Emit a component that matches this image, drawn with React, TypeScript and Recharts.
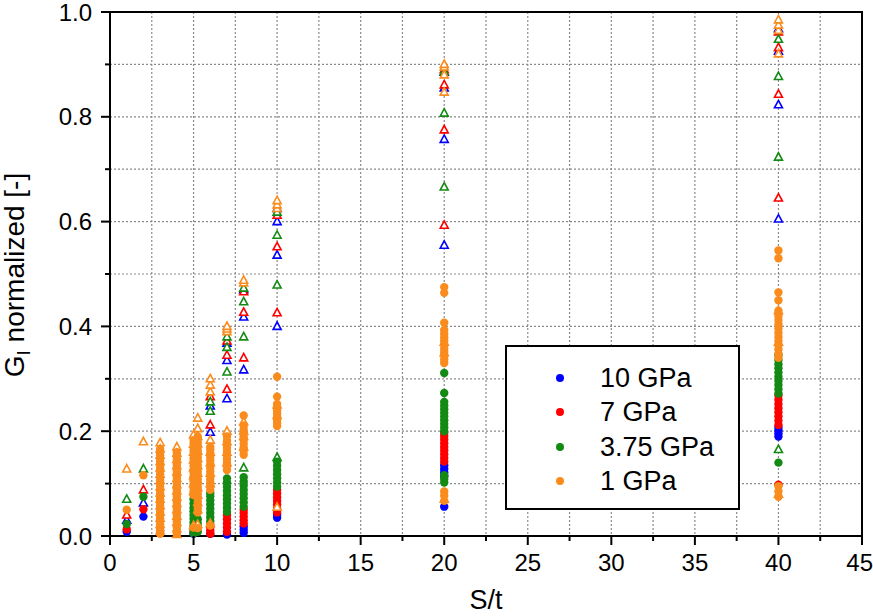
import { CartesianGrid, Legend, ReferenceArea, Scatter, ScatterChart, XAxis, YAxis } from 'recharts'

// each entry: [S/t, G_I normalized values]
type Column = [number, number[]]

const blueDots: Column[] = [
  [1, [0.008]],
  [2, [0.037]],
  [3, [0.01]],
  [5, [0.004]],
  [6, [0.004]],
  [7, [0.003]],
  [8, [0.006, 0.012, 0.018]],
  [10, [0.035, 0.041]],
  [20, [0.056, 0.114, 0.121, 0.128, 0.135]],
  [40, [0.19, 0.196, 0.202, 0.208]],
]
const blueTris: Column[] = [
  [1, [0.03]],
  [2, [0.063]],
  [6, [0.198, 0.248]],
  [7, [0.262, 0.335, 0.368]],
  [8, [0.317, 0.418, 0.47]],
  [10, [0.4, 0.536, 0.6, 0.625]],
  [20, [0.555, 0.757, 0.855, 0.885]],
  [40, [0.605, 0.823, 0.925, 0.968]],
]
const redDots: Column[] = [
  [1, [0.013]],
  [2, [0.051]],
  [5, [0.008]],
  [6, [0.004, 0.01, 0.016, 0.022]],
  [7, [0.008, 0.016, 0.024, 0.032, 0.04]],
  [8, [0.024, 0.03, 0.037, 0.044, 0.05]],
  [10, [0.045, 0.052, 0.06, 0.067, 0.074, 0.081, 0.088]],
  [20, [0.142, 0.149, 0.156, 0.163, 0.17, 0.177, 0.184, 0.191, 0.197]],
  [40, [0.098, 0.212, 0.22, 0.228, 0.236, 0.244, 0.252, 0.26, 0.268]],
]
const redTris: Column[] = [
  [1, [0.04]],
  [2, [0.088]],
  [6, [0.212, 0.266]],
  [7, [0.28, 0.345, 0.372]],
  [8, [0.34, 0.427, 0.466]],
  [10, [0.426, 0.552, 0.612]],
  [20, [0.593, 0.775, 0.861, 0.89]],
  [40, [0.645, 0.843, 0.932, 0.962]],
]
const greenDots: Column[] = [
  [1, [0.023]],
  [2, [0.075]],
  [5, [0.005, 0.012, 0.019, 0.026, 0.033, 0.04, 0.047, 0.054, 0.062, 0.07]],
  [5.25, [0.008, 0.016, 0.024, 0.032]],
  [6, [0.028, 0.036, 0.044, 0.052, 0.06, 0.068, 0.076, 0.082]],
  [7, [0.046, 0.054, 0.062, 0.07, 0.078, 0.086, 0.094, 0.102, 0.11]],
  [8, [0.056, 0.064, 0.072, 0.08, 0.088, 0.096, 0.104, 0.112]],
  [10, [0.094, 0.102, 0.11, 0.118, 0.126, 0.134, 0.142]],
  [20, [0.102, 0.109, 0.116, 0.2, 0.207, 0.214, 0.221, 0.228, 0.235, 0.242, 0.249, 0.256, 0.273, 0.311]],
  [40, [0.14, 0.272, 0.28, 0.288, 0.296, 0.304, 0.312, 0.32, 0.328, 0.336, 0.345]],
]
const greenTris: Column[] = [
  [1, [0.07]],
  [2, [0.128]],
  [6, [0.238, 0.256]],
  [7, [0.313, 0.36, 0.38]],
  [8, [0.13, 0.38, 0.447, 0.473]],
  [10, [0.15, 0.479, 0.574, 0.618]],
  [20, [0.666, 0.807, 0.886]],
  [40, [0.165, 0.723, 0.877, 0.948]],
]
const orangeDots: Column[] = [
  [1, [0.05]],
  [2, [0.116]],
  [3, [0.004, 0.01, 0.016, 0.022, 0.028, 0.034, 0.04, 0.046, 0.052, 0.058, 0.064, 0.07, 0.076, 0.082, 0.088, 0.094, 0.1, 0.106, 0.112, 0.118, 0.124, 0.13, 0.136, 0.142, 0.148, 0.154, 0.16, 0.166]],
  [4, [0.004, 0.01, 0.016, 0.022, 0.028, 0.034, 0.04, 0.046, 0.052, 0.058, 0.064, 0.07, 0.076, 0.082, 0.088, 0.094, 0.1, 0.106, 0.112, 0.118, 0.124, 0.13, 0.136, 0.142, 0.148, 0.154, 0.16]],
  [5, [0.016, 0.078, 0.085, 0.092, 0.099, 0.106, 0.113, 0.12, 0.127, 0.134, 0.141, 0.148, 0.155, 0.162, 0.169, 0.176, 0.183]],
  [5.25, [0.015, 0.045, 0.052, 0.059, 0.066, 0.073, 0.08, 0.087, 0.094, 0.101, 0.108, 0.115, 0.122, 0.129, 0.136, 0.143, 0.15, 0.157, 0.164, 0.171, 0.178, 0.185, 0.19]],
  [6, [0.02, 0.088, 0.095, 0.102, 0.109, 0.116, 0.123, 0.13, 0.137, 0.144, 0.151, 0.158, 0.165, 0.17]],
  [7, [0.126, 0.133, 0.14, 0.147, 0.154, 0.161, 0.168, 0.175, 0.182, 0.19]],
  [8, [0.155, 0.162, 0.169, 0.176, 0.183, 0.19, 0.197, 0.204, 0.211, 0.23]],
  [10, [0.21, 0.216, 0.222, 0.228, 0.234, 0.24, 0.246, 0.252, 0.266, 0.304]],
  [20, [0.067, 0.077, 0.085, 0.33, 0.337, 0.344, 0.351, 0.358, 0.365, 0.372, 0.379, 0.386, 0.393, 0.407, 0.464, 0.475]],
  [40, [0.075, 0.085, 0.095, 0.34, 0.348, 0.356, 0.364, 0.372, 0.38, 0.388, 0.396, 0.404, 0.412, 0.42, 0.43, 0.45, 0.465, 0.53, 0.545]],
]
const orangeTris: Column[] = [
  [1, [0.128]],
  [2, [0.18]],
  [3, [0.178, 0.166, 0.154, 0.142, 0.13, 0.118, 0.106, 0.094, 0.082, 0.07, 0.058, 0.046, 0.034, 0.022, 0.01]],
  [4, [0.17, 0.158, 0.146, 0.134, 0.122, 0.11, 0.098, 0.086, 0.074, 0.062, 0.05, 0.038, 0.026, 0.014, 0.003]],
  [5, [0.193, 0.175, 0.16, 0.145, 0.13, 0.115, 0.1, 0.085, 0.02]],
  [5.25, [0.225, 0.205, 0.19, 0.176, 0.162, 0.148, 0.134, 0.12, 0.106, 0.092, 0.078, 0.064, 0.05, 0.022]],
  [6, [0.024, 0.1, 0.12, 0.14, 0.16, 0.183, 0.275, 0.288, 0.3]],
  [7, [0.14, 0.16, 0.18, 0.2, 0.39, 0.395, 0.4]],
  [8, [0.17, 0.19, 0.2, 0.218, 0.483, 0.488]],
  [10, [0.055, 0.23, 0.25, 0.625, 0.632, 0.64]],
  [20, [0.07, 0.35, 0.37, 0.847, 0.88, 0.895, 0.9]],
  [40, [0.08, 0.37, 0.43, 0.92, 0.965, 0.975, 0.985]],
]

const legendNames = ['10 GPa', '7 GPa', '3.75 GPa', '1 GPa']
const seriesColors = ['#0000ff', '#ff0000', '#138a13', '#fa8c1e']
const dotSets = [blueDots, redDots, greenDots, orangeDots]
const triSets = [blueTris, redTris, greenTris, orangeTris]

const xTicks = [0, 2.5, 5, 7.5, 10, 12.5, 15, 17.5, 20, 22.5, 25, 27.5, 30, 32.5, 35, 37.5, 40, 42.5, 45]
const yTicks = [0, 0.1, 0.2, 0.3, 0.4, 0.5, 0.6, 0.7, 0.8, 0.9, 1]

const font = '"Liberation Sans", Arial, sans-serif'

const toPoints = (cols: Column[]) => cols.flatMap(([x, ys]) => ys.map((y) => ({ x, y })))

const dotShape = (color: string) => (p: any) => <circle cx={p.cx} cy={p.cy} r={4.2} fill={color} />

const triShape = (color: string) => (p: any) => (
  <path
    d={`M${p.cx} ${p.cy - 4.4}L${p.cx + 4} ${p.cy + 3}L${p.cx - 4} ${p.cy + 3}Z`}
    fill="#fff"
    stroke={color}
    strokeWidth={1.6}
  />
)

function XTick({ x, y, payload }: any) {
  const v = payload.value
  const major = v % 5 === 0
  // last label sits against the page edge
  const last = v === 45
  return (
    <g>
      <line x1={x} x2={x} y1={y} y2={y + (major ? 9 : 5)} stroke="#000" strokeWidth={2} />
      {major && (
        <text x={last ? x + 11 : x} y={y + 35} textAnchor={last ? 'end' : 'middle'} fontSize={24} fill="#000">
          {v}
        </text>
      )}
    </g>
  )
}

function YTick({ x, y, payload }: any) {
  const v = payload.value
  const major = Math.round(v * 10) % 2 === 0
  return (
    <g>
      <line x1={x - (major ? 9 : 5)} x2={x} y1={y} y2={y} stroke="#000" strokeWidth={2} />
      {major && (
        <text x={x - 18} y={y + 8.5} textAnchor="end" fontSize={24} fill="#000">
          {v.toFixed(1)}
        </text>
      )}
    </g>
  )
}

function YTitle() {
  return (
    <text x={24} y={275} transform="rotate(-90 24 275)" textAnchor="middle" fontSize={28} fill="#000">
      G
      <tspan dy={6} fontSize={19}>
        I
      </tspan>
      <tspan dy={-6}> normalized [-]</tspan>
    </text>
  )
}

function LegendBox() {
  return (
    <div
      style={{
        boxSizing: 'border-box',
        width: 235,
        height: 165,
        border: '2px solid #000',
        background: '#fff',
        paddingTop: 14,
        fontFamily: font,
        fontSize: 27,
        color: '#000',
      }}
    >
      {legendNames.map((name, i) => (
        <div key={name} style={{ height: 34.3, display: 'flex', alignItems: 'center' }}>
          <svg width={8} height={8} style={{ marginLeft: 49, marginRight: 36 }}>
            <circle cx={4} cy={4} r={4} fill={seriesColors[i]} />
          </svg>
          <span style={{ lineHeight: '34px' }}>{name}</span>
        </div>
      ))}
    </div>
  )
}

export default function App() {
  return (
    <div style={{ position: 'absolute', left: 0, top: 0, width: 873, height: 616, background: '#fff', fontFamily: font }}>
      <ScatterChart width={873} height={616} margin={{ top: 12, right: 11, bottom: 0, left: 0 }} style={{ fontFamily: font }}>
        <CartesianGrid stroke="#8a8a8a" strokeWidth={1.2} strokeDasharray="2 2" />
        <XAxis
          type="number"
          dataKey="x"
          domain={[0, 45]}
          ticks={xTicks}
          interval={0}
          height={80}
          tickSize={0}
          tickMargin={0}
          tickLine={false}
          tick={<XTick />}
          axisLine={{ stroke: '#000', strokeWidth: 2 }}
          label={{ value: 'S/t', position: 'insideBottom', offset: 7, fontSize: 27, fill: '#000' }}
        />
        <YAxis
          type="number"
          dataKey="y"
          domain={[0, 1]}
          ticks={yTicks}
          interval={0}
          width={110}
          tickSize={0}
          tickMargin={0}
          tickLine={false}
          tick={<YTick />}
          axisLine={{ stroke: '#000', strokeWidth: 2 }}
          label={YTitle}
        />
        {dotSets.flatMap((dots, i) => [
          <Scatter
            key={`t${i}`}
            data={toPoints(triSets[i])}
            fill={seriesColors[i]}
            legendType="none"
            shape={triShape(seriesColors[i])}
            isAnimationActive={false}
          />,
          <Scatter
            key={`d${i}`}
            name={legendNames[i]}
            data={toPoints(dots)}
            fill={seriesColors[i]}
            shape={dotShape(seriesColors[i])}
            isAnimationActive={false}
          />,
        ])}
        <ReferenceArea x1={0} x2={45} y1={0} y2={1} fill="none" stroke="#000" strokeWidth={2} ifOverflow="visible" />
        <Legend
          layout="vertical"
          align="center"
          verticalAlign="middle"
          wrapperStyle={{ left: 505, top: 345, width: 235, height: 165 }}
          content={<LegendBox />}
        />
      </ScatterChart>
    </div>
  )
}
